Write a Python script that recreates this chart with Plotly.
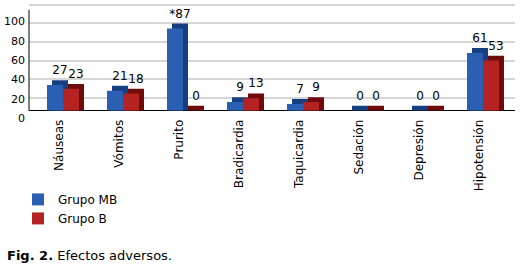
import plotly.graph_objects as go

# ---------------- data ----------------
categories = ["Náuseas", "Vómitos", "Prurito", "Bradicardia",
              "Taquicardia", "Sedación", "Depresión", "Hipotensión"]
grupo_mb = [27, 21, 87, 9, 7, 0, 0, 61]
grupo_b = [23, 18, 0, 13, 9, 0, 0, 53]
mb_marks = ["", "", "*", "", "", "", "", ""]
b_marks = ["", "", "", "", "", "", "", ""]
series_names = ["Grupo MB", "Grupo B"]
y_ticks = [0, 20, 40, 60, 80, 100]
caption = "<b>Fig. 2.</b> Efectos adversos."

# ---------------- geometry / style ----------------
W, H = 526, 277
FONT = "DejaVu Sans"

def fx(p):
    return p / W

def fy(p):
    return 1 - p / H

cat_px = 60.0
x_left, x_right = 29, 515
x_range = [-0.5, -0.5 + (x_right - x_left) / cat_px]

dom_top, dom_bottom = 2, 122          # plot area (px)
floor_px = 113                        # bar floor (px)
bar_scale = 0.965                     # px per unit for bars
bar_range = [-(dom_bottom - floor_px) / bar_scale, (floor_px - dom_top) / bar_scale]

lab_zero_px, lab_scale = 121, 0.99    # front scale labels
lab_range = [-(dom_bottom - lab_zero_px) / lab_scale, (lab_zero_px - dom_top) / lab_scale]

grid_zero_px, grid_scale = 100, 0.95  # back wall grid
grid_range = [-(dom_bottom - grid_zero_px) / grid_scale, (grid_zero_px - dom_top) / grid_scale]

depth_px = 5
depth_x = depth_px / cat_px
depth_y = depth_px / bar_scale
bar_w = 16 / cat_px
offsets = [-12 / cat_px, 4 / cat_px]

front_colors = ["#2a5fb2", "#b42222"]
back_colors = ["#163f82", "#6e0c0c"]

fig = go.Figure()

# empty traces so the overlaying label / grid axes exist
fig.add_trace(go.Scatter(x=[], y=[], xaxis="x", yaxis="y2", showlegend=False, hoverinfo="skip"))
fig.add_trace(go.Scatter(x=[], y=[], xaxis="x", yaxis="y3", showlegend=False, hoverinfo="skip"))

for vals, marks, name, off, fc, bc in zip([grupo_mb, grupo_b], [mb_marks, b_marks],
                                           series_names, offsets, front_colors, back_colors):
    # depth (top + side) of the 3D bar
    fig.add_trace(go.Bar(
        x=categories, y=[v + depth_y for v in vals], base=0,
        offset=off + depth_x, width=bar_w,
        marker=dict(color=bc, line=dict(width=0)),
        text=[f"{m}{v}" for m, v in zip(marks, vals)],
        textposition="outside", constraintext="none", cliponaxis=False,
        textfont=dict(family=FONT, size=12, color="#000000"),
        xaxis="x", yaxis="y", showlegend=False, hoverinfo="skip",
    ))
    # front face
    fig.add_trace(go.Bar(
        x=categories, y=vals, base=0, offset=off, width=bar_w, name=name,
        marker=dict(color=fc, line=dict(width=0)),
        xaxis="x", yaxis="y", showlegend=True,
    ))

ydom = [fy(dom_bottom), fy(dom_top)]

fig.update_layout(
    width=W, height=H, autosize=False,
    margin=dict(l=0, r=0, t=0, b=0),
    paper_bgcolor="white", plot_bgcolor="white",
    barmode="overlay",
    font=dict(family=FONT, size=12, color="#000000"),
    xaxis=dict(domain=[fx(x_left), fx(x_right)], anchor="y", range=x_range,
               type="category", categoryorder="array", categoryarray=categories,
               showline=False, showgrid=False, zeroline=False, ticks="",
               tickangle=-90, ticklabelstandoff=-3,
               tickfont=dict(family=FONT, size=12, color="#000000"), fixedrange=True),
    yaxis=dict(domain=ydom, anchor="x", range=bar_range,
               showline=False, showgrid=False, showticklabels=False, ticks="",
               zeroline=True, zerolinecolor="#000000", zerolinewidth=1,
               fixedrange=True),
    yaxis2=dict(overlaying="y", anchor="x", side="left", range=lab_range,
                tickvals=y_ticks, ticks="", showgrid=False, zeroline=False, showline=False,
                ticklabelstandoff=3,
                tickfont=dict(family=FONT, size=11, color="#000000"), fixedrange=True),
    yaxis3=dict(overlaying="y", anchor="x", side="left", range=grid_range,
                tickvals=y_ticks, showticklabels=False, ticks="",
                showgrid=True, gridcolor="#d6d6d6", gridwidth=2,
                zeroline=False, showline=False, fixedrange=True),
    legend=dict(x=fx(18), y=fy(189), xanchor="left", yanchor="top",
                bgcolor="rgba(0,0,0,0)", font=dict(family=FONT, size=12, color="#000000"),
                itemwidth=30, tracegroupgap=0),
    annotations=[dict(text=caption, x=fx(5), y=fy(261), xref="paper", yref="paper",
                      xanchor="left", yanchor="middle", showarrow=False,
                      font=dict(family=FONT, size=13, color="#000000"))],
    shapes=[
        # vertical front axis line
        dict(type="line", xref="x domain", yref="y", x0=0, x1=0, y0=0,
             y1=(floor_px - 10) / bar_scale,
             line=dict(color="#000000", width=1), layer="above"),
    ],
    showlegend=True,
)

fig.write_html("out.html")
